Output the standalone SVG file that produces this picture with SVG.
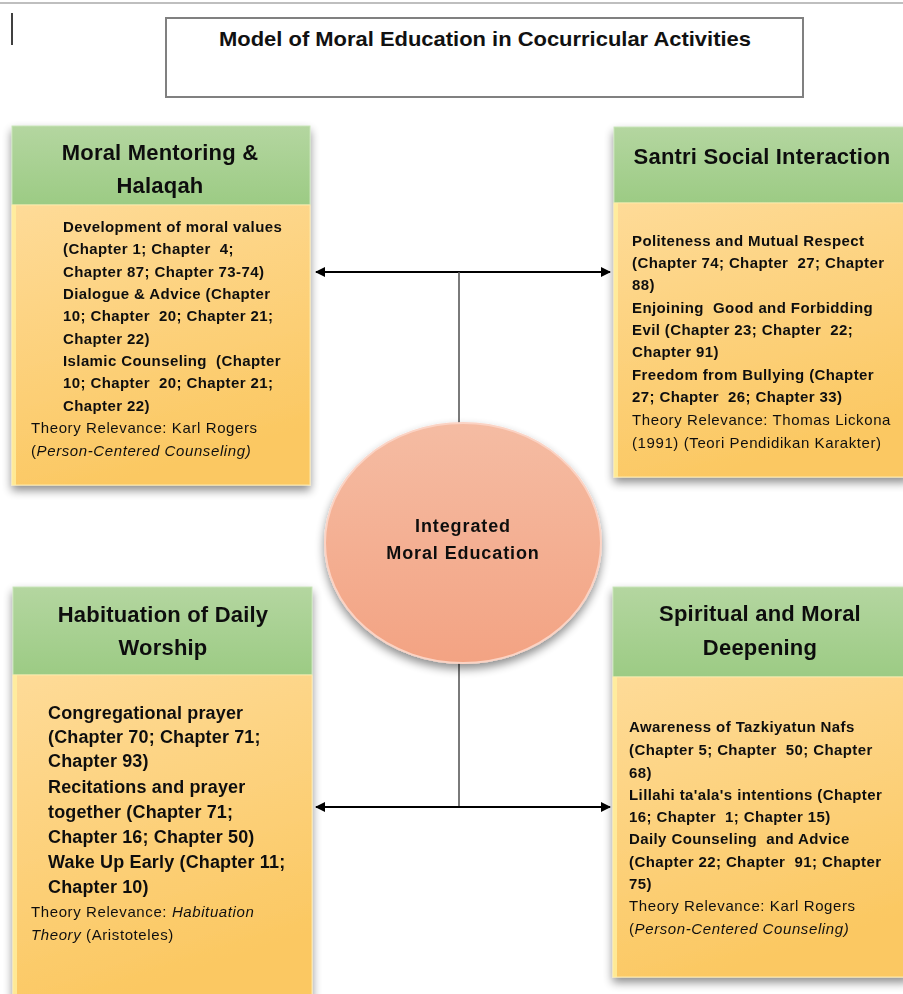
<svg xmlns="http://www.w3.org/2000/svg" width="903" height="994" viewBox="0 0 903 994">
<defs>
<linearGradient id="gHead" x1="0" y1="0" x2="0" y2="1">
<stop offset="0" stop-color="#b4d6a0"/>
<stop offset="1" stop-color="#9ccb84"/>
</linearGradient>
<linearGradient id="gBody" x1="0" y1="0" x2="0.3" y2="1">
<stop offset="0" stop-color="#fedb98"/>
<stop offset="1" stop-color="#fbc862"/>
</linearGradient>
<linearGradient id="gEll" x1="0" y1="0" x2="0" y2="1">
<stop offset="0" stop-color="#f5bca3"/>
<stop offset="1" stop-color="#f3a383"/>
</linearGradient>
<filter id="sh" x="-20%" y="-20%" width="140%" height="140%">
<feGaussianBlur in="SourceAlpha" stdDeviation="5"/>
<feOffset dx="0" dy="5" result="b"/>
<feComponentTransfer><feFuncA type="linear" slope="0.45"/></feComponentTransfer>
<feMerge><feMergeNode/><feMergeNode in="SourceGraphic"/></feMerge>
</filter>
<marker id="ah" viewBox="0 0 10 10" refX="9" refY="5" markerWidth="5" markerHeight="5" orient="auto-start-reverse">
<path d="M0,0 L10,5 L0,10 Z" fill="#000"/>
</marker>
</defs>
<style>
text{font-family:"Liberation Sans",Arial,sans-serif;fill:#111;white-space:pre;}
.title{font-size:21px;font-weight:bold;}
.head{font-size:22px;font-weight:bold;text-anchor:middle;letter-spacing:0.2px;}
.b{font-size:15px;font-weight:bold;letter-spacing:0.4px;}
.bb{font-size:18px;font-weight:bold;letter-spacing:0.15px;}
.n{font-size:15px;letter-spacing:0.6px;}
.it{font-style:italic;}
.ell{font-size:18px;font-weight:bold;text-anchor:middle;letter-spacing:0.9px;}
.hdr{fill:url(#gHead);stroke:#c8e4b8;stroke-width:1;}
.body{fill:url(#gBody);stroke:#fde9a8;stroke-width:1;}
.bevel{fill:#fff0a0;opacity:0.8;}
.conn{stroke:#000;stroke-width:2;fill:none;}
.stem{stroke:#595959;stroke-width:1.6;fill:none;}
</style>
<rect width="903" height="994" fill="#fff"/>
<line x1="0" y1="3" x2="903" y2="3" stroke="#bfbfbf" stroke-width="2"/>
<line x1="12" y1="13" x2="12" y2="45" stroke="#000" stroke-width="1.5"/>
<g id="title">
<rect x="166" y="18" width="637" height="79" fill="#fff" stroke="#808080" stroke-width="2"/>
<text class="title" x="485" y="46" text-anchor="middle" textLength="532" lengthAdjust="spacingAndGlyphs">Model of Moral Education in Cocurricular Activities</text>
</g>
<g id="connectors">
<line class="conn" x1="316" y1="272" x2="610" y2="272" marker-start="url(#ah)" marker-end="url(#ah)"/>
<line class="stem" x1="459" y1="272" x2="459" y2="430"/>
<line class="stem" x1="459" y1="658" x2="459" y2="807"/>
<line class="conn" x1="316" y1="807" x2="610" y2="807" marker-start="url(#ah)" marker-end="url(#ah)"/>
</g>
<g id="mentoring" filter="url(#sh)">
<rect class="hdr" x="12" y="126" width="298" height="79"/>
<rect class="body" x="12" y="205" width="298" height="280"/>
<rect class="bevel" x="12" y="205" width="4" height="280"/>
<text class="head" x="160" y="160">Moral Mentoring &amp;</text>
<text class="head" x="160" y="193">Halaqah</text>
<text class="b" x="63" y="232">Development of moral values</text>
<text class="b" x="63" y="254">(Chapter 1; Chapter  4;</text>
<text class="b" x="63" y="277">Chapter 87; Chapter 73-74)</text>
<text class="b" x="63" y="299">Dialogue &amp; Advice (Chapter</text>
<text class="b" x="63" y="321">10; Chapter  20; Chapter 21;</text>
<text class="b" x="63" y="344">Chapter 22)</text>
<text class="b" x="63" y="366">Islamic Counseling  (Chapter</text>
<text class="b" x="63" y="388">10; Chapter  20; Chapter 21;</text>
<text class="b" x="63" y="411">Chapter 22)</text>
<text class="n" x="31" y="433">Theory Relevance: Karl Rogers</text>
<text class="n" x="31" y="456">(<tspan class="it">Person-Centered Counseling)</tspan></text>
</g>
<g id="social" filter="url(#sh)">
<rect class="hdr" x="614" y="127" width="295" height="76"/>
<rect class="body" x="614" y="203" width="295" height="274"/>
<rect class="bevel" x="614" y="203" width="4" height="274"/>
<text class="head" x="762" y="164">Santri Social Interaction</text>
<text class="b" x="632" y="246">Politeness and Mutual Respect</text>
<text class="b" x="632" y="268">(Chapter 74; Chapter  27; Chapter</text>
<text class="b" x="632" y="290">88)</text>
<text class="b" x="632" y="313">Enjoining  Good and Forbidding</text>
<text class="b" x="632" y="335">Evil (Chapter 23; Chapter  22;</text>
<text class="b" x="632" y="357">Chapter 91)</text>
<text class="b" x="632" y="380">Freedom from Bullying (Chapter</text>
<text class="b" x="632" y="402">27; Chapter  26; Chapter 33)</text>
<text class="n" x="632" y="425">Theory Relevance: Thomas Lickona</text>
<text class="n" x="632" y="448">(1991) (Teori Pendidikan Karakter)</text>
</g>
<g id="center" filter="url(#sh)">
<ellipse cx="463" cy="543" rx="138" ry="120" fill="url(#gEll)" stroke="#fbd3c4" stroke-width="2"/>
<text class="ell" x="463" y="532">Integrated</text>
<text class="ell" x="463" y="559">Moral Education</text>
</g>
<g id="habituation" filter="url(#sh)">
<rect class="hdr" x="13" y="587" width="299" height="88"/>
<rect class="body" x="13" y="675" width="299" height="325"/>
<rect class="bevel" x="13" y="675" width="4" height="325"/>
<text class="head" x="163" y="622">Habituation of Daily</text>
<text class="head" x="163" y="655">Worship</text>
<text class="bb" x="48" y="719">Congregational prayer</text>
<text class="bb" x="48" y="743">(Chapter 70; Chapter 71;</text>
<text class="bb" x="48" y="767">Chapter 93)</text>
<text class="bb" x="48" y="793">Recitations and prayer</text>
<text class="bb" x="48" y="818">together (Chapter 71;</text>
<text class="bb" x="48" y="843">Chapter 16; Chapter 50)</text>
<text class="bb" x="48" y="868">Wake Up Early (Chapter 11;</text>
<text class="bb" x="48" y="893">Chapter 10)</text>
<text class="n" x="31" y="917">Theory Relevance: <tspan class="it">Habituation</tspan></text>
<text class="n" x="31" y="940"><tspan class="it">Theory</tspan> (Aristoteles)</text>
</g>
<g id="spiritual" filter="url(#sh)">
<rect class="hdr" x="613" y="587" width="296" height="90"/>
<rect class="body" x="613" y="677" width="296" height="300"/>
<rect class="bevel" x="613" y="677" width="4" height="300"/>
<text class="head" x="760" y="621">Spiritual and Moral</text>
<text class="head" x="760" y="655">Deepening</text>
<text class="b" x="629" y="732">Awareness of Tazkiyatun Nafs</text>
<text class="b" x="629" y="755">(Chapter 5; Chapter  50; Chapter</text>
<text class="b" x="629" y="778">68)</text>
<text class="b" x="629" y="800">Lillahi ta'ala's intentions (Chapter</text>
<text class="b" x="629" y="822">16; Chapter  1; Chapter 15)</text>
<text class="b" x="629" y="844">Daily Counseling  and Advice</text>
<text class="b" x="629" y="867">(Chapter 22; Chapter  91; Chapter</text>
<text class="b" x="629" y="889">75)</text>
<text class="n" x="629" y="911">Theory Relevance: Karl Rogers</text>
<text class="n" x="629" y="934">(<tspan class="it">Person-Centered Counseling)</tspan></text>
</g>
</svg>
